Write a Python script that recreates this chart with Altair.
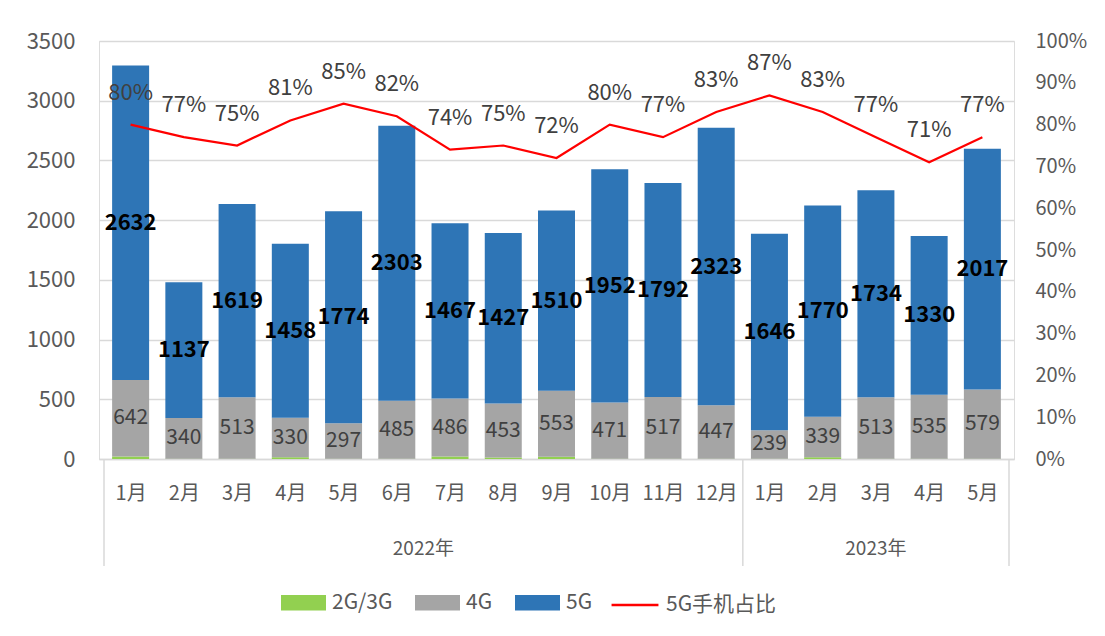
import altair as alt
import pandas as pd

months = ["1月", "2月", "3月", "4月", "5月", "6月", "7月", "8月", "9月", "10月", "11月", "12月",
          "1月", "2月", "3月", "4月", "5月"]
years = ["2022年"] * 12 + ["2023年"] * 5
g23 = [20, 3, 3, 15, 3, 3, 20, 12, 18, 3, 3, 3, 2, 14, 3, 2, 2]
g4 = [642, 340, 513, 330, 297, 485, 486, 453, 553, 471, 517, 447, 239, 339, 513, 535, 579]
g5 = [2632, 1137, 1619, 1458, 1774, 2303, 1467, 1427, 1510, 1952, 1792, 2323, 1646, 1770, 1734, 1330, 2017]
pct = [80, 77, 75, 81, 85, 82, 74, 75, 72, 80, 77, 83, 87, 83, 77, 71, 77]
series = ["2G/3G", "4G", "5G"]
series_colors = ["#92D050", "#A5A5A5", "#2E75B6"]
line_name = "5G手机占比"

FONT = "Noto Sans CJK SC"
W, H = 915, 418

idx = list(range(len(months)))

rows = []
for i in idx:
    for s, v, o in zip(series, [g23[i], g4[i], g5[i]], [0, 1, 2]):
        rows.append({"i": i, "series": s, "value": v, "ord": o})
bars_df = pd.DataFrame(rows)

lab_df = pd.DataFrame({
    "i": idx,
    "g4": g4,
    "g5": g5,
    "y4": [a + b / 2 for a, b in zip(g23, g4)],
    "y5": [a + b + c / 2 for a, b, c in zip(g23, g4, g5)],
})

line_df = pd.DataFrame({
    "i": idx,
    "pct": [p / 100 for p in pct],
    "name": [line_name] * len(idx),
})

# year group centres and separators derived from the month/year lists
grp = pd.DataFrame({"i": idx, "year": years})
year_df = grp.groupby("year", as_index=False)["i"].mean()
bounds = [-0.5] + [i + 0.5 for i in idx if i + 1 < len(idx) and years[i] != years[i + 1]] + [len(idx) - 0.5]
sep_df = pd.DataFrame({"b": bounds})

xscale = alt.Scale(domain=[-0.5, len(idx) - 0.5], nice=False, zero=False)
month_expr = "[" + ",".join("'%s'" % m for m in months) + "][datum.value]"

x_axis = alt.Axis(values=idx, labelExpr=month_expr, ticks=False, grid=False,
                  domainColor="#D9D9D9", domainWidth=1.5, labelFontSize=20,
                  labelColor="#595959", labelPadding=24, labelFont=FONT, title=None)

bars = alt.Chart(bars_df).mark_bar(size=37).encode(
    x=alt.X("i:Q", scale=xscale, axis=x_axis),
    y=alt.Y("value:Q", stack="zero",
            scale=alt.Scale(domain=[0, 3500], nice=False),
            axis=alt.Axis(values=list(range(0, 3501, 500)), format="d", title=None, ticks=False,
                          domain=False, gridColor="#D9D9D9", gridWidth=1.5,
                          labelFontSize=22, labelColor="#595959", labelPadding=24,
                          minExtent=91, maxExtent=91, labelFont=FONT)),
    color=alt.Color("series:N", scale=alt.Scale(domain=series, range=series_colors),
                    legend=alt.Legend(title=None, orient="none", legendX=182, legendY=539,
                                      direction="horizontal",
                                      symbolType="M-1,-0.34H1V0.34H-1Z", symbolSize=2025,
                                      symbolStrokeWidth=0, symbolOpacity=1,
                                      labelFontSize=21, labelColor="#595959",
                                      labelFont=FONT, columnPadding=22, labelOffset=6)),
    order=alt.Order("ord:Q"),
)

lab4 = alt.Chart(lab_df).mark_text(fontSize=21, color="#404040", font=FONT).encode(
    x=alt.X("i:Q", scale=xscale), y=alt.Y("y4:Q"), text="g4:Q")
lab5 = alt.Chart(lab_df).mark_text(fontSize=22, fontWeight="bold", color="#000000", font=FONT).encode(
    x=alt.X("i:Q", scale=xscale), y=alt.Y("y5:Q"), text="g5:Q")

year_text = alt.Chart(year_df).mark_text(fontSize=19, color="#595959", font=FONT).encode(
    x=alt.X("i:Q", scale=xscale), y=alt.value(H + 90), text="year:N")
seps = alt.Chart(sep_df).mark_rule(color="#D9D9D9", strokeWidth=1.5).encode(
    x=alt.X("b:Q", scale=xscale), y=alt.value(H), y2=alt.value(H + 107))

left = alt.layer(bars, lab4, lab5, year_text, seps)

line = alt.Chart(line_df).mark_line(strokeWidth=2.2).encode(
    x=alt.X("i:Q", scale=xscale),
    y=alt.Y("pct:Q", scale=alt.Scale(domain=[0, 1], nice=False),
            axis=alt.Axis(orient="right", format=".0%", values=[v / 10 for v in range(11)],
                          title=None, ticks=False, domain=False, grid=False,
                          labelFontSize=20, labelColor="#595959", labelPadding=21,
                          labelFont=FONT)),
    color=alt.Color("name:N", scale=alt.Scale(domain=[line_name], range=["#FF0000"]),
                    legend=alt.Legend(title=None, orient="none", legendX=511, legendY=539,
                                      symbolType="stroke", symbolSize=2200, symbolStrokeWidth=2.5,
                                      labelFontSize=21, labelColor="#595959",
                                      labelFont=FONT, labelOffset=6)),
)
pct_lab = alt.Chart(line_df).mark_text(fontSize=22, color="#404040", dy=-32, font=FONT).encode(
    x=alt.X("i:Q", scale=xscale), y=alt.Y("pct:Q"), text=alt.Text("pct:Q", format=".0%"))

right = alt.layer(line, pct_lab)

chart = alt.layer(left, right).resolve_scale(y="independent", color="independent").properties(
    width=W, height=H,
    padding={"left": 0, "top": 22, "right": 5, "bottom": 5},
    background="white",
).configure_view(stroke=None).configure(font=FONT)

chart.save("out.html", embed_options={"renderer": "svg", "actions": False})
